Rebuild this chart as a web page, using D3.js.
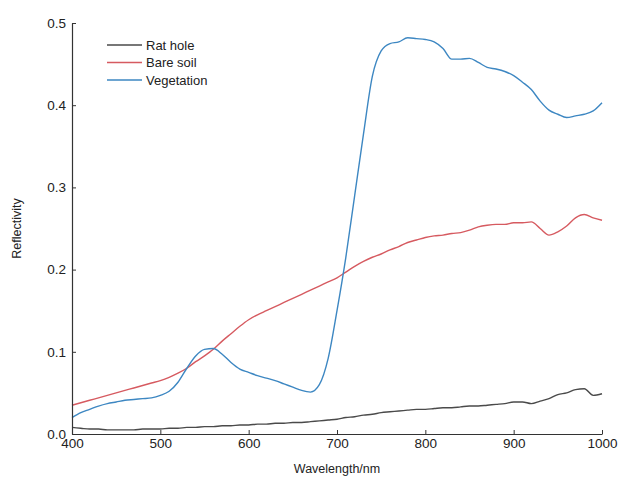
<!DOCTYPE html>
<html>
<head>
<meta charset="utf-8">
<script src="https://cdn.jsdelivr.net/npm/d3@7"></script>
<style>
  body { margin: 0; background: #fff; }
  svg text { font-family: "Liberation Sans", Arial, sans-serif; fill: #222; }
</style>
</head>
<body>
<svg id="chart" width="619" height="479"></svg>
<script>
// wavelength grid (nm)
var wavelength = d3.range(400, 1001, 10);

var ratHole = [
  0.008, 0.007, 0.006, 0.006, 0.005, 0.005, 0.005, 0.005, 0.006, 0.006,
  0.006, 0.007, 0.007, 0.008, 0.008, 0.009, 0.009, 0.010, 0.010, 0.011,
  0.011, 0.012, 0.012, 0.013, 0.013, 0.014, 0.014, 0.015, 0.016, 0.017,
  0.018, 0.020, 0.021, 0.023, 0.024, 0.026, 0.027, 0.028, 0.029, 0.030,
  0.030, 0.031, 0.032, 0.032, 0.033, 0.034, 0.034, 0.035, 0.036, 0.037,
  0.039, 0.039, 0.037, 0.040, 0.043, 0.048, 0.050, 0.054, 0.055, 0.047,
  0.049
];

var bareSoil = [
  0.035, 0.038, 0.041, 0.044, 0.047, 0.050, 0.053, 0.056, 0.059, 0.062,
  0.065, 0.069, 0.074, 0.080, 0.088, 0.095, 0.103, 0.113, 0.122, 0.131,
  0.139, 0.145, 0.150, 0.155, 0.160, 0.165, 0.170, 0.175, 0.180, 0.185,
  0.190, 0.197, 0.204, 0.210, 0.215, 0.219, 0.224, 0.228, 0.233, 0.236,
  0.239, 0.241, 0.242, 0.244, 0.245, 0.248, 0.252, 0.254, 0.255, 0.255,
  0.257, 0.257, 0.258, 0.250, 0.242, 0.246, 0.253, 0.263, 0.267, 0.263,
  0.260
];

var vegetation = [
  0.020, 0.026, 0.030, 0.034, 0.037, 0.039, 0.041, 0.042, 0.043, 0.044,
  0.047, 0.052, 0.063, 0.080, 0.095, 0.103, 0.104, 0.097, 0.087, 0.079,
  0.075, 0.071, 0.068, 0.065, 0.061, 0.057, 0.053, 0.051, 0.060, 0.092,
  0.150, 0.215, 0.290, 0.365, 0.435, 0.466, 0.475, 0.477, 0.482, 0.481,
  0.480, 0.477, 0.469, 0.456, 0.456, 0.457, 0.452, 0.446, 0.444, 0.441,
  0.436, 0.428, 0.419, 0.405, 0.394, 0.389, 0.385, 0.387, 0.389, 0.393,
  0.403
];

var seriesNames = ['Rat hole', 'Bare soil', 'Vegetation'];
var seriesColors = ['#4a4a4a', '#d65a60', '#3d87c2'];
var xTicks = [400, 500, 600, 700, 800, 900, 1000];
var yTicks = [0.0, 0.1, 0.2, 0.3, 0.4, 0.5];

var margin = { top: 23, right: 17, bottom: 45, left: 72 };
var width = 619 - margin.left - margin.right;
var height = 479 - margin.top - margin.bottom;

var svg = d3.select('#chart');
var g = svg.append('g').attr('transform', 'translate(' + margin.left + ',' + margin.top + ')');

var x = d3.scaleLinear().domain([400, 1000]).range([0, width]);
var y = d3.scaleLinear().domain([0, 0.5]).range([height, 0]);

var series = [ratHole, bareSoil, vegetation].map(function (vals, i) {
  return {
    name: seriesNames[i],
    color: seriesColors[i],
    values: vals.map(function (v, j) { return { x: wavelength[j], y: v }; })
  };
});

var line = d3.line()
  .curve(d3.curveMonotoneX)
  .x(function (d) { return x(d.x); })
  .y(function (d) { return y(d.y); });

// curves
g.selectAll('.curve')
  .data(series)
  .enter().append('path')
  .attr('class', 'curve')
  .attr('d', function (d) { return line(d.values); })
  .attr('fill', 'none')
  .attr('stroke', function (d) { return d.color; })
  .attr('stroke-width', 1.4);

// axes, ticks pointing inward
var xAxis = g.append('g')
  .attr('transform', 'translate(0,' + height + ')')
  .call(d3.axisBottom(x).tickValues(xTicks).tickSize(-4).tickSizeOuter(0).tickPadding(7)
    .tickFormat(d3.format('d')));

var yAxis = g.append('g')
  .call(d3.axisLeft(y).tickValues(yTicks).tickSize(-4).tickSizeOuter(0).tickPadding(6)
    .tickFormat(d3.format('.1f')));

[xAxis, yAxis].forEach(function (ax) {
  ax.select('.domain').attr('stroke', '#333').attr('stroke-width', 1.2);
  ax.selectAll('.tick line').attr('stroke', '#333');
  ax.selectAll('.tick text').style('font-size', '13.5px').attr('fill', '#222');
});
xAxis.selectAll('.tick text').attr('dy', '0.55em');

// axis titles
svg.append('text')
  .attr('x', margin.left + width / 2)
  .attr('y', 473)
  .attr('text-anchor', 'middle')
  .style('font-size', '12.5px')
  .text('Wavelength/nm');

svg.append('text')
  .attr('transform', 'translate(21,' + (margin.top + height / 2) + ') rotate(-90)')
  .attr('text-anchor', 'middle')
  .style('font-size', '12.5px')
  .text('Reflectivity');

// legend
var legend = svg.append('g').attr('transform', 'translate(107,45)');
var item = legend.selectAll('.item')
  .data(series)
  .enter().append('g')
  .attr('class', 'item')
  .attr('transform', function (d, i) { return 'translate(0,' + i * 17.5 + ')'; });

item.append('line')
  .attr('x1', 0).attr('x2', 35)
  .attr('stroke', function (d) { return d.color; })
  .attr('stroke-width', 1.4);

item.append('text')
  .attr('x', 39)
  .attr('dy', '0.35em')
  .style('font-size', '13px')
  .text(function (d) { return d.name; });
</script>
</body>
</html>
